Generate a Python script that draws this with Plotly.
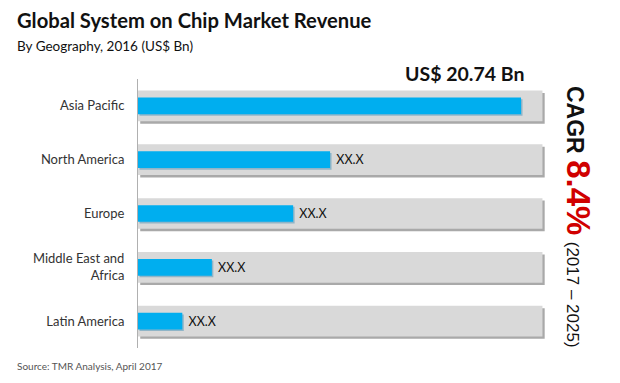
import plotly.graph_objects as go

regions = ["Asia Pacific", "North America", "Europe", "Middle East and<br>Africa", "Latin America"]
revenue = [20.74, 10.4, 8.4, 4.0, 2.4]
labels = ["", " XX.X", " XX.X", " XX.X", " XX.X"]
track = [21.9] * len(regions)

fig = go.Figure()
# shadow of track
fig.add_trace(go.Bar(y=regions, x=track, base=0.12, orientation="h", width=0.57, offset=-0.285 + 0.045,
                     marker=dict(color="#a9a9a9", line=dict(width=0)), hoverinfo="skip", showlegend=False))
# track
fig.add_trace(go.Bar(y=regions, x=track, orientation="h", width=0.57, offset=-0.285,
                     marker=dict(color="#d9d9d9", line=dict(width=0)), hoverinfo="skip", showlegend=False))
# blue shadow
fig.add_trace(go.Bar(y=regions, x=revenue, base=0.08, orientation="h", width=0.31, offset=-0.155 + 0.03,
                     marker=dict(color="#8fb5c8", line=dict(width=0)), hoverinfo="skip", showlegend=False))
# values
fig.add_trace(go.Bar(y=regions, x=revenue, orientation="h", width=0.31, offset=-0.155,
                     marker=dict(color="#00aeef", line=dict(width=0)), text=labels,
                     textposition="outside", constraintext="none", cliponaxis=False,
                     textfont=dict(family="Lato", size=12.5, color="#111"), showlegend=False))

W, H = 620, 383
l, r, t, b = 138, 72, 79, 35
pw, ph = W - l - r, H - t - b


def px(x):
    return (x - l) / pw


def py(y):
    return 1 - (y - t) / ph


fig.update_layout(
    width=W, height=H, barmode="overlay",
    margin=dict(l=l, r=r, t=t, b=b),
    paper_bgcolor="white", plot_bgcolor="white",
    xaxis=dict(range=[0, 22.2], visible=False),
    yaxis=dict(autorange="reversed", showline=True, linecolor="#b0b0b0", linewidth=1,
               showgrid=False, ticks="", ticklabelstandoff=10,
               tickfont=dict(family="Lato", size=13, color="#333")),
    annotations=[
        dict(text="<b>Global System on Chip Market Revenue</b>", x=px(15), y=py(6),
             showarrow=False, font=dict(family="Lato", size=20.2, color="#111"), xanchor="left", yanchor="top"),
        dict(text="By Geography, 2016 (US$ Bn)", x=px(15), y=py(36), showarrow=False,
             font=dict(family="Lato", size=13.5, color="#111"), xanchor="left", yanchor="top"),
        dict(text="<b>US$ 20.74 Bn</b>", x=px(465), y=py(60), showarrow=False,
             font=dict(family="Lato", size=19.5, color="#111"), xanchor="center", yanchor="top"),
        dict(text="<b>CAGR </b><b><span style='color:#d00000;font-size:33px'>8.4%</span></b> <span style='font-size:17px'>(2017 – 2025)</span>",
             x=px(579), y=py(217), showarrow=False, textangle=90,
             font=dict(family="Liberation Sans", size=23, color="#111"), xanchor="center", yanchor="middle"),
        dict(text="Source: TMR Analysis, April 2017", x=px(15), y=py(366), showarrow=False,
             font=dict(family="Lato", size=10, color="#555"), xanchor="left", yanchor="middle"),
    ],
)
for a in fig.layout.annotations:
    a.xref = "paper"
    a.yref = "paper"

fig.write_html("out.html", config={"displayModeBar": False},
               post_script="document.body.style.margin='0';")
